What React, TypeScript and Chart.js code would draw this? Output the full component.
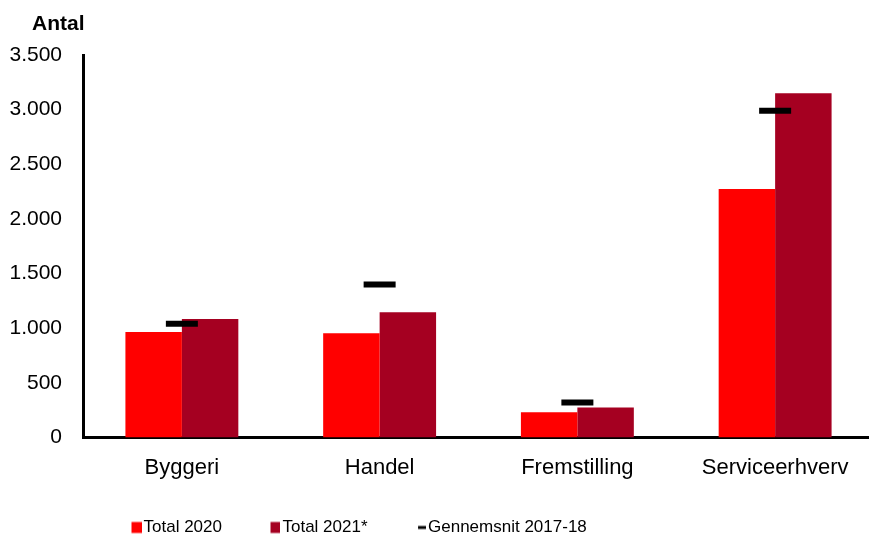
import React, { useEffect, useRef } from "react";
import { Chart, registerables } from "chart.js";

Chart.register(...registerables);

const categories = ["Byggeri", "Handel", "Fremstilling", "Serviceerhverv"];
const total2020 = [965, 955, 230, 2275];
const total2021 = [1085, 1145, 275, 3150];
const avg201718 = [1040, 1400, 320, 2990];
const seriesNames = ["Total 2020", "Total 2021*", "Gennemsnit 2017-18"];
const yTitle = "Antal";

const RED = "#FF0000";
const DARK = "#A50021";
const FONT = "'Liberation Sans', Arial, sans-serif";

function fmt(v: number): string {
  const s = String(Math.round(v));
  return s.replace(/\B(?=(\d{3})+(?!\d))/g, ".");
}

function makeMarker(totalW: number, mw: number, mh: number, color: string) {
  const c = document.createElement("canvas");
  c.width = totalW;
  c.height = 14;
  const ctx = c.getContext("2d")!;
  ctx.fillStyle = color;
  ctx.fillRect(totalW - mw, (14 - mh) / 2, mw, mh);
  return c;
}

export default function App() {
  const ref = useRef<HTMLCanvasElement>(null);
  useEffect(() => {
    if (!ref.current) return;
    const W = 52;
    const imgW = W + 13;
    const markers = [
      makeMarker(imgW, 10, 11, RED),
      makeMarker(imgW, 10, 11, DARK),
      makeMarker(imgW, 8, 3, "#000"),
    ];
    const titlePlugin = {
      id: "antal",
      afterDraw(chart: any) {
        const ctx = chart.ctx;
        ctx.save();
        ctx.font = `bold 21px ${FONT}`;
        ctx.fillStyle = "#000";
        ctx.textBaseline = "alphabetic";
        ctx.textAlign = "left";
        ctx.fillText(yTitle, 32, 30);
        ctx.restore();
      },
    };
    const chart = new Chart(ref.current, {
      type: "bar",
      data: {
        labels: categories,
        datasets: [
          {
            type: "bar",
            label: seriesNames[0],
            data: total2020,
            backgroundColor: RED,
            order: 2,
            categoryPercentage: 0.571,
            barPercentage: 1,
          } as any,
          {
            type: "bar",
            label: seriesNames[1],
            data: total2021,
            backgroundColor: DARK,
            order: 2,
            categoryPercentage: 0.571,
            barPercentage: 1,
          } as any,
          {
            type: "line",
            label: seriesNames[2],
            data: avg201718,
            showLine: false,
            borderColor: "#000",
            backgroundColor: "#000",
            pointStyle: "line",
            pointRadius: 16,
            pointHoverRadius: 16,
            pointBorderWidth: 6,
            pointHoverBorderWidth: 6,
            pointBorderColor: "#000",
            order: 0,
          } as any,
        ],
      },
      options: {
        animation: false,
        responsive: true,
        maintainAspectRatio: false,
        layout: { padding: { top: 55, left: 0, right: 1, bottom: 0 } },
        plugins: {
          tooltip: { enabled: false },
          title: { display: false },
          legend: {
            position: "bottom",
            align: "start",
            fullSize: false,
            labels: {
              usePointStyle: true,
              pointStyleWidth: W,
              padding: 0,
              color: "#000",
              font: { family: FONT, size: 17 },
              sort: (a: any, b: any) => a.datasetIndex - b.datasetIndex,
              generateLabels: (chart: any) => {
                const items = (Chart.defaults.plugins.legend.labels as any).generateLabels(chart);
                items.forEach((it: any) => {
                  it.pointStyle = markers[it.datasetIndex];
                  it.lineWidth = 0;
                });
                return items;
              },
            },
          },
        },
        scales: {
          x: {
            grid: { display: false, drawTicks: false },
            border: { display: true, color: "#000", width: 3 },
            ticks: {
              color: "#000",
              font: { family: FONT, size: 22 },
              padding: 17,
              maxRotation: 0,
              autoSkip: false,
            },
            afterFit: (s: any) => {
              s.height = 81.5;
              s.paddingLeft = 0;
              s.paddingRight = 0;
            },
          },
          y: {
            min: 0,
            max: 3500,
            grid: { display: false, drawTicks: false },
            border: { display: true, color: "#000", width: 3 },
            ticks: {
              stepSize: 500,
              color: "#000",
              font: { family: FONT, size: 21 },
              padding: 21,
              callback: (v: any) => fmt(Number(v)),
            },
            afterFit: (s: any) => {
              s.width = 83;
              s.paddingTop = 0;
              s.paddingBottom = 0;
            },
          },
        },
      },
      plugins: [titlePlugin],
    } as any);
    return () => chart.destroy();
  }, []);
  return (
    <div style={{ position: "fixed", left: 0, top: 0, width: 869, height: 536, overflow: "hidden", background: "#fff" }}>
      <div style={{ position: "relative", width: 896, height: 546 }}>
        <canvas ref={ref} />
      </div>
    </div>
  );
}
